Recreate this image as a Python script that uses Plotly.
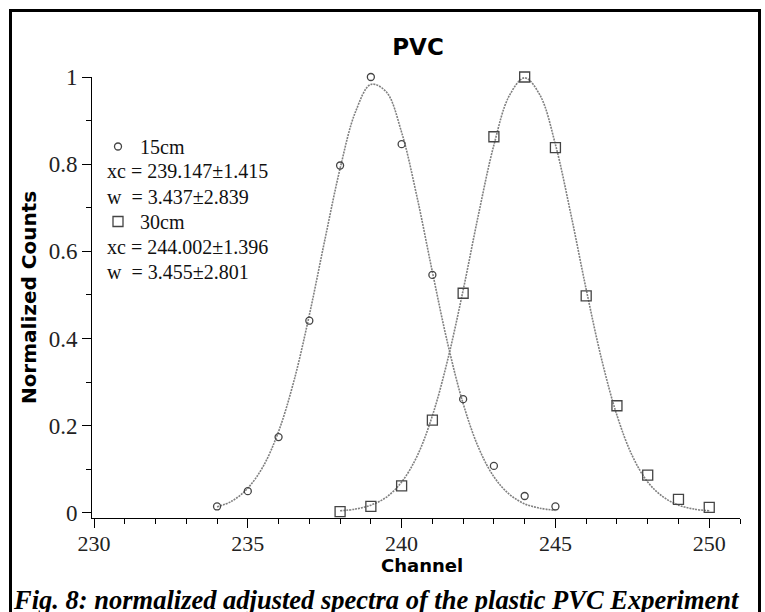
import plotly.graph_objects as go

# ---- data ----
ch_15 = [234, 235, 236, 237, 238, 239, 240, 241, 242, 243, 244, 245]
counts_15 = [0.015, 0.050, 0.174, 0.441, 0.797, 1.000, 0.846, 0.546, 0.261, 0.108, 0.039, 0.015]

ch_30 = [238, 239, 240, 241, 242, 243, 244, 245, 246, 247, 248, 249, 250]
counts_30 = [0.003, 0.015, 0.062, 0.213, 0.504, 0.863, 1.000, 0.838, 0.498, 0.246, 0.087, 0.031, 0.013]

# fitted curves
fit_x_15 = [234, 234.5, 235, 235.5, 236, 236.5, 237, 237.5, 238, 238.5, 239, 239.5,
            240, 240.5, 241, 241.5, 242, 242.5, 243, 243.5, 244, 244.5, 245]
fit_y_15 = [0.014, 0.028, 0.057, 0.107, 0.187, 0.303, 0.454, 0.625, 0.790, 0.920, 0.983, 0.966,
            0.873, 0.725, 0.553, 0.388, 0.251, 0.150, 0.083, 0.043, 0.021, 0.011, 0.006]

fit_x_30 = [238, 238.5, 239, 239.5, 240, 240.5, 241, 241.5, 242, 242.5, 243, 243.5, 244,
            244.5, 245, 245.5, 246, 246.5, 247, 247.5, 248, 248.5, 249, 249.5, 250]
fit_y_30 = [0.005, 0.009, 0.018, 0.036, 0.071, 0.130, 0.223, 0.352, 0.511, 0.685, 0.844, 0.957, 0.998,
            0.958, 0.845, 0.686, 0.513, 0.353, 0.224, 0.131, 0.071, 0.037, 0.018, 0.009, 0.005]

names = ["15cm", "30cm"]
param_lines_15 = ["xc = 239.147±1.415", "w\u00a0\u00a0= 3.437±2.839"]
param_lines_30 = ["xc = 244.002±1.396", "w\u00a0\u00a0= 3.455±2.801"]

x_ticks = [230, 235, 240, 245, 250]
y_ticks = [0, 0.2, 0.4, 0.6, 0.8, 1]
y_tick_text = ["0", "0.2", "0.4", "0.6", "0.8", "1"]

title_text = "PVC"
x_title = "Channel"
y_title = "Normalized Counts"
caption = "Fig. 8: normalized adjusted spectra of the plastic PVC Experiment"

SERIF = "Liberation Serif"
SANS = "DejaVu Sans"
line_col = "#808080"
mark_col = "#444444"

fig = go.Figure()

fig.add_trace(go.Scatter(x=fit_x_15, y=fit_y_15, mode="lines", line_shape="spline",
                         line=dict(color=line_col, width=1.6, dash="2px,1px"),
                         showlegend=False, hoverinfo="skip"))
fig.add_trace(go.Scatter(x=fit_x_30, y=fit_y_30, mode="lines", line_shape="spline",
                         line=dict(color=line_col, width=1.6, dash="2px,1px"),
                         showlegend=False, hoverinfo="skip"))

fig.add_trace(go.Scatter(x=ch_15, y=counts_15, mode="markers", name=names[0],
                         legendgroup="a",
                         marker=dict(symbol="circle-open", size=7, color=mark_col,
                                     line=dict(width=1.3, color=mark_col)),
                         cliponaxis=False))
fig.add_trace(go.Scatter(x=ch_30, y=counts_30, mode="markers", name=names[1],
                         legendgroup="b",
                         marker=dict(symbol="square-open", size=10, color=mark_col,
                                     line=dict(width=1.3, color=mark_col)),
                         cliponaxis=False))

# plot area in pixels
W, H = 765, 612
L, R, T, B = 92, 740, 77, 518
pw, ph = R - L, B - T


def px(xp):
    return (xp - L) / pw


def py(yp):
    return (B - yp) / ph


annotations = []
for txt, yp in zip(param_lines_15 + param_lines_30, [171, 197, 247, 272]):
    annotations.append(dict(text=txt, xref="paper", yref="paper", x=px(105), y=py(yp),
                            xanchor="left", yanchor="middle", showarrow=False,
                            font=dict(family=SERIF, size=20, color="#111")))

# x-axis title
annotations.append(dict(text="<b>" + x_title + "</b>", xref="paper", yref="paper",
                        x=px(422), y=py(565), xanchor="center", yanchor="middle",
                        showarrow=False, font=dict(family=SANS, size=18, color="black")))

annotations.append(dict(text="<b><i>" + caption + "</i></b>", xref="paper", yref="paper",
                        x=px(376), y=py(600), xanchor="center", yanchor="middle",
                        showarrow=False, font=dict(family=SERIF, size=26.5, color="black")))

shapes = [dict(type="rect", xref="paper", yref="paper",
               x0=px(10.5), x1=px(759.5), y0=py(630), y1=py(10.5),
               line=dict(color="black", width=3), fillcolor="rgba(0,0,0,0)", layer="above")]

fig.update_layout(
    width=W, height=H,
    margin=dict(l=L, r=W - R, t=T, b=H - B),
    paper_bgcolor="white", plot_bgcolor="white",
    title=dict(text="<b>" + title_text + "</b>", xref="paper", x=px(418), xanchor="center",
               y=1 - 47 / H, yanchor="middle",
               font=dict(family=SANS, size=23, color="black")),
    showlegend=True,
    legend=dict(x=px(96), y=py(127), xanchor="left", yanchor="top",
                font=dict(family=SERIF, size=20, color="#111"),
                bgcolor="rgba(0,0,0,0)", tracegroupgap=46, itemwidth=34),
    annotations=annotations,
    shapes=shapes,
)

fig.update_xaxes(range=[229.935, 251.0], tickvals=x_ticks, ticks="outside", ticklen=9,
                 tickwidth=1, tickcolor="black", showline=True, linecolor="black", linewidth=1,
                 showgrid=False, zeroline=False, ticklabelstandoff=-3,
                 minor=dict(dtick=1, tick0=230, ticks="outside", ticklen=5, tickcolor="black",
                            showgrid=False),
                 tickfont=dict(family=SERIF, size=22, color="#222"))
fig.update_yaxes(range=[-0.0115, 1.0], tickvals=y_ticks, ticktext=y_tick_text,
                 ticks="outside", ticklen=9, tickwidth=1, tickcolor="black",
                 showline=True, linecolor="black", linewidth=1,
                 showgrid=False, zeroline=False,
                 minor=dict(dtick=0.1, tick0=0, ticks="outside", ticklen=5, tickcolor="black",
                            showgrid=False),
                 tickfont=dict(family=SERIF, size=23, color="#222"),
                 title=dict(text="<b>" + y_title + "</b>", standoff=6,
                            font=dict(family=SANS, size=20, color="black")))

fig.write_html("out.html")
